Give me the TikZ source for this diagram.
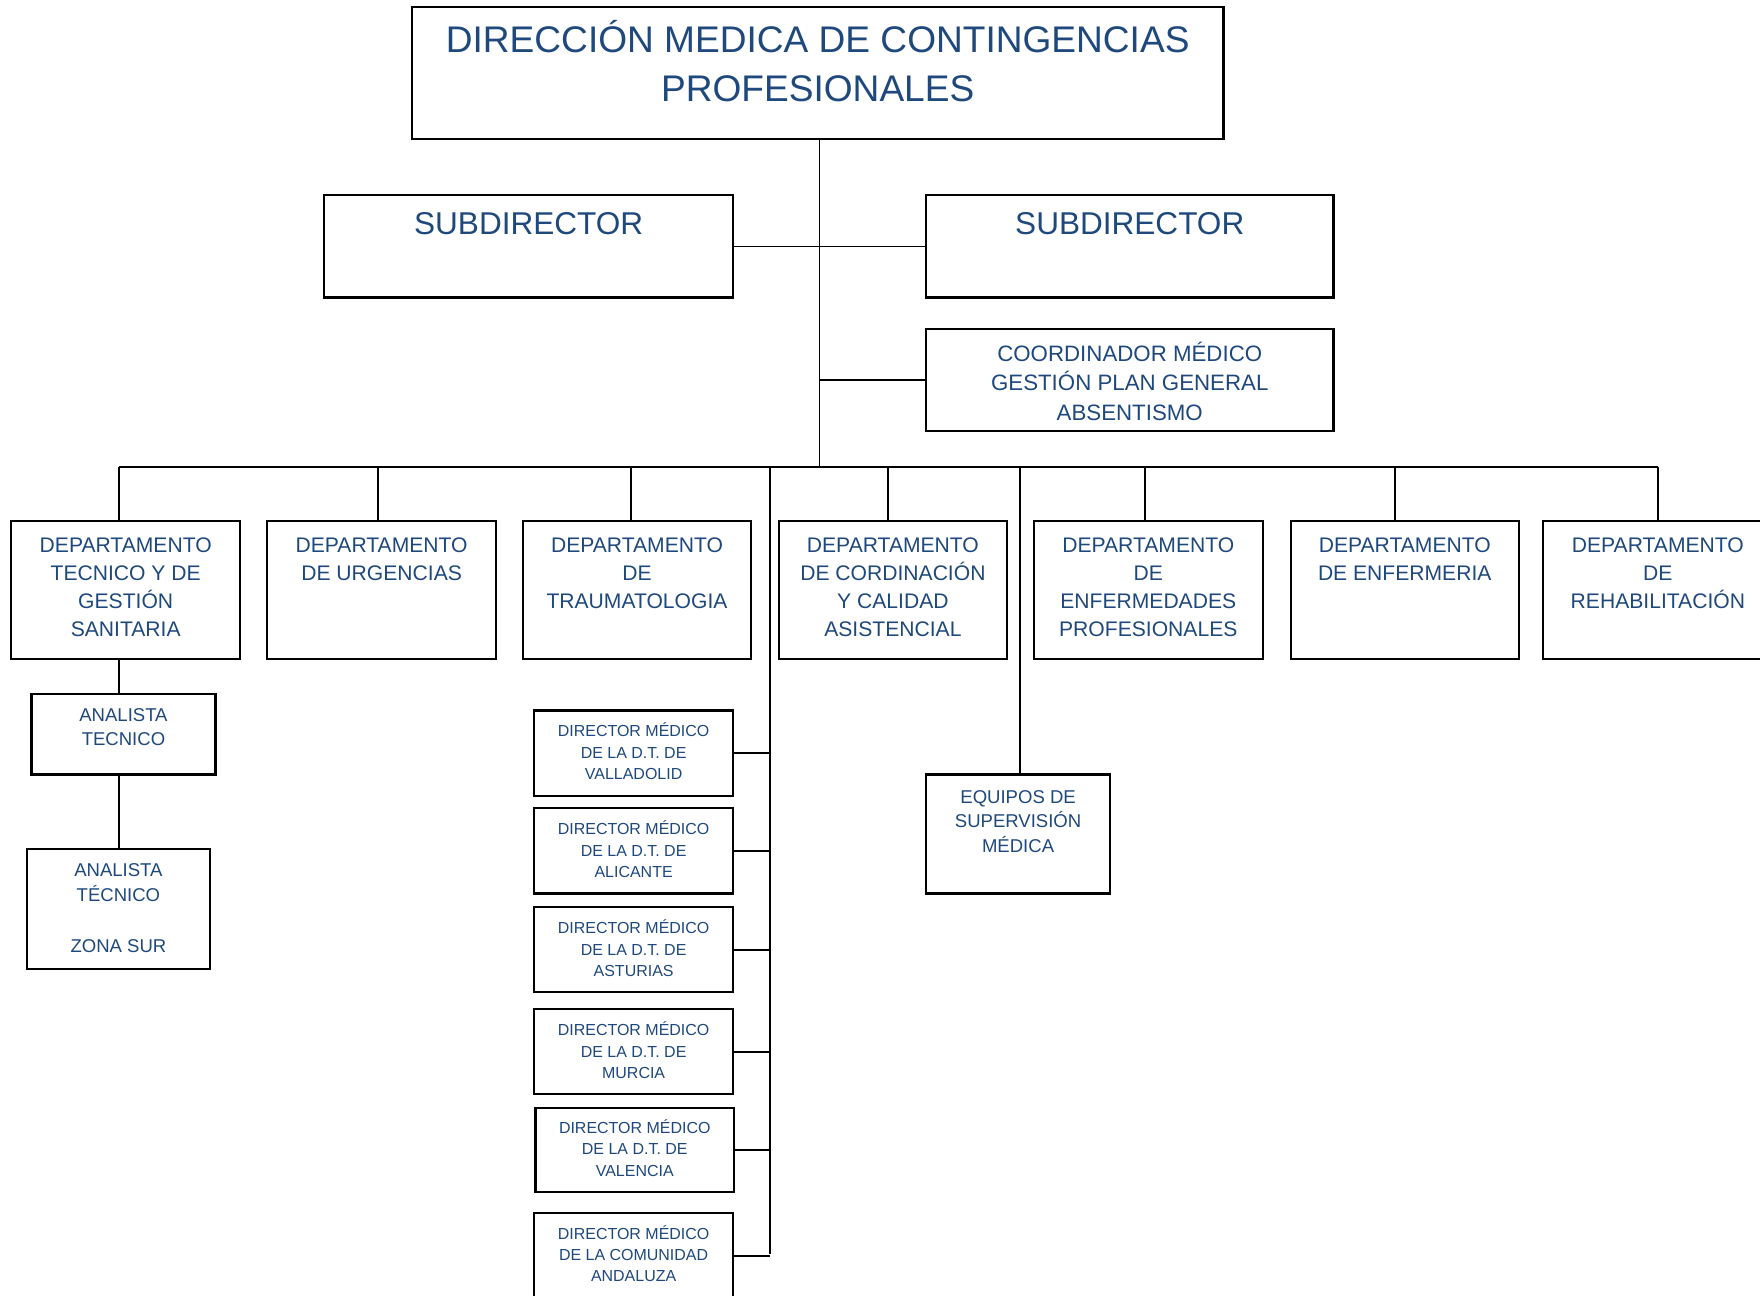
\documentclass[tikz,border=0pt]{standalone}
\usepackage{fontspec}
\setmainfont{Liberation Sans}
\usetikzlibrary{calc}
\definecolor{txtblue}{RGB}{31,73,125}
\tikzset{
  box/.style={draw=black, line width=1.1pt, rectangle, inner sep=0pt},
  sz/.style 2 args={minimum width=#1*0.02cm, minimum height=#2*0.02cm},
  lbl/.style={text=txtblue, align=center, inner sep=0pt,
    execute at begin node=\strut, execute at end node=\strut},
  conn/.style={draw=black, line width=0.9pt},
  ftitle/.style={font=\fontsize{18.8}{25}\selectfont},
  fsub/.style={font=\fontsize{16}{20}\selectfont},
  fcoord/.style={font=\fontsize{11.3}{15}\selectfont},
  fdept/.style={font=\fontsize{10.7}{14.2}\selectfont},
  fana/.style={font=\fontsize{9.4}{12.5}\selectfont},
  fdir/.style={font=\fontsize{8.1}{10.8}\selectfont},
}
\begin{document}
\begin{tikzpicture}[x=0.02cm,y=-0.02cm]
\useasboundingbox[fill=white] (0,0) rectangle (1568,1154);

% top
\node[box, sz={723}{118}] (top) at (728.5,65) {};
\node[lbl, ftitle] (tTop) at (728.5,61) {DIRECCIÓN MEDICA DE CONTINGENCIAS\\PROFESIONALES};

% subdirectors
\node[box, sz={364}{91}] (subL) at (471,219.5) {};
\node[lbl, fsub] (tSubL) at (471,202) {SUBDIRECTOR};
\node[box, sz={363}{91}] (subR) at (1006.5,219.5) {};
\node[lbl, fsub] (tSubR) at (1006.5,202) {SUBDIRECTOR};

% coordinador
\node[box, sz={363}{91}] (coord) at (1006.5,338.5) {};
\node[lbl, fcoord] (tCoord) at (1006.5,343.5) {COORDINADOR MÉDICO\\GESTIÓN PLAN GENERAL\\ABSENTISMO};

% departments
\node[box, sz={204}{123}] (d1) at (112,525.5) {};
\node[lbl, fdept] (td1) at (112,526.5) {DEPARTAMENTO\\TECNICO Y DE\\GESTIÓN\\SANITARIA};
\node[box, sz={204}{123}] (d2) at (340,525.5) {};
\node[lbl, fdept] (td2) at (340,501.5) {DEPARTAMENTO\\DE URGENCIAS};
\node[box, sz={203}{123}] (d3) at (567.5,525.5) {};
\node[lbl, fdept] (td3) at (567.5,514) {DEPARTAMENTO\\DE\\TRAUMATOLOGIA};
\node[box, sz={203}{123}] (d4) at (795.5,525.5) {};
\node[lbl, fdept] (td4) at (795.5,526.5) {DEPARTAMENTO\\DE CORDINACIÓN\\Y CALIDAD\\ASISTENCIAL};
\node[box, sz={204}{123}] (d5) at (1023,525.5) {};
\node[lbl, fdept] (td5) at (1023,526.5) {DEPARTAMENTO\\DE\\ENFERMEDADES\\PROFESIONALES};
\node[box, sz={203}{123}] (d6) at (1251.5,525.5) {};
\node[lbl, fdept] (td6) at (1251.5,501.5) {DEPARTAMENTO\\DE ENFERMERIA};
\node[box, sz={204}{123}] (d7) at (1477,525.5) {};
\node[lbl, fdept] (td7) at (1477,514) {DEPARTAMENTO\\DE\\REHABILITACIÓN};

% analistas
\node[box, sz={164}{72}] (an1) at (110,654) {};
\node[lbl, fana] (tan1) at (110,651) {ANALISTA\\TECNICO};
\node[box, sz={163}{107}] (an2) at (105.5,809.5) {};
\node[lbl, fana] (tan2) at (105.5,812) {ANALISTA\\TÉCNICO\\[0.47cm]ZONA SUR};

% directors
\node[box, sz={177}{76}] (r1) at (564.5,671) {};
\node[lbl, fdir] (tr1) at (564.5,672) {DIRECTOR MÉDICO\\DE LA D.T. DE\\VALLADOLID};
\node[box, sz={177}{76}] (r2) at (564.5,758) {};
\node[lbl, fdir] (tr2) at (564.5,759.5) {DIRECTOR MÉDICO\\DE LA D.T. DE\\ALICANTE};
\node[box, sz={177}{76}] (r3) at (564.5,846) {};
\node[lbl, fdir] (tr3) at (564.5,847.5) {DIRECTOR MÉDICO\\DE LA D.T. DE\\ASTURIAS};
\node[box, sz={177}{76}] (r4) at (564.5,937) {};
\node[lbl, fdir] (tr4) at (564.5,938.5) {DIRECTOR MÉDICO\\DE LA D.T. DE\\MURCIA};
\node[box, sz={177}{75}] (r5) at (565.5,1024.5) {};
\node[lbl, fdir] (tr5) at (565.5,1025.5) {DIRECTOR MÉDICO\\DE LA D.T. DE\\VALENCIA};
\node[box, sz={177}{76}] (r6) at (564.5,1119) {};
\node[lbl, fdir] (tr6) at (564.5,1119.5) {DIRECTOR MÉDICO\\DE LA COMUNIDAD\\ANDALUZA};

% equipos
\node[box, sz={164}{106}] (eq) at (907,743) {};
\node[lbl, fana] (teq) at (907,735) {EQUIPOS DE\\SUPERVISIÓN\\MÉDICA};

% connector points
\coordinate (busL) at (106,416);
\coordinate (busR) at (1477,416);
\coordinate (bus) at (730,416);
\coordinate (trunk) at (686,416);
\coordinate (trunkEnd) at (686,1117);
\coordinate (p1) at (106,464);
\coordinate (p2) at (337,464);
\coordinate (p3) at (562,464);
\coordinate (p4) at (791,464);
\coordinate (p5) at (1020,464);
\coordinate (p6) at (1243,464);
\coordinate (pe) at (909,690);
\coordinate (a1) at (106,587);
\coordinate (a2) at (106,618);
\coordinate (a3) at (106,690);
\coordinate (a4) at (106,756);

\draw[conn] (top.south -| bus) -- (bus);
\draw[conn] (subL.east) -- (subR.west);
\draw[conn] (coord.west) -- (coord.west -| bus);
\draw[conn] (busL) -- (busR);
\foreach \p in {p1,p2,p3,p4,p5,p6,pe}{
  \draw[conn] (\p) -- (\p |- busL);
}
\draw[conn] (d7.north) -- (d7.north |- busL);
\draw[conn] (trunk) -- (trunkEnd);
\foreach \r in {r1,r2,r3,r4,r5,r6}{
  \draw[conn] (\r.east) -- (\r.east -| trunk);
}
\draw[conn] (a1) -- (a2);
\draw[conn] (a3) -- (a4);
\end{tikzpicture}
\end{document}
